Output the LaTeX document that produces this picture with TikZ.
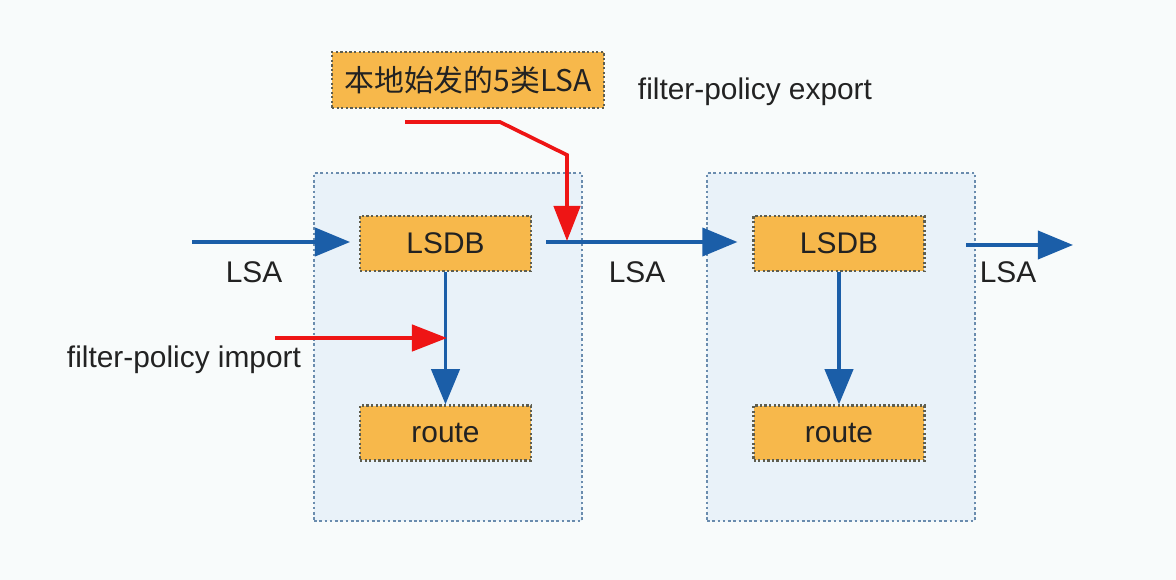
\documentclass[tikz,border=0pt]{standalone}
\usepackage{fontspec}
\setmainfont{Liberation Sans}
\newfontfamily\cjkfont{Noto Sans CJK SC}
\usetikzlibrary{arrows.meta}
\usepackage{xcolor}

\definecolor{lsblue}{HTML}{1B5EA8}
\definecolor{lsred}{HTML}{EE1515}
\definecolor{boxorange}{HTML}{F7B84B}
\definecolor{areafill}{HTML}{E9F2F9}
\definecolor{areaedge}{HTML}{6A8CAE}
\definecolor{boxedge}{HTML}{5E5E50}
\definecolor{pagebg}{HTML}{F8FBFB}
\definecolor{txt}{HTML}{222222}

\tikzset{
  areabox/.style={draw=areaedge, fill=areafill, line width=1.5pt,
    dash pattern=on 1.5pt off 1.5pt, minimum width=5.36cm, minimum height=6.96cm, inner sep=0pt},
  dbbox/.style={draw=boxedge, fill=boxorange, line width=1.3pt,
    dash pattern=on 1.3pt off 1.3pt, minimum width=3.42cm, minimum height=1.1cm, inner sep=0pt, text=txt},
  bluearrow/.style={draw=lsblue, line width=2.1pt, -{Triangle[length=20pt,width=16pt]}},
  redarrow/.style={draw=lsred, line width=2.1pt, -{Triangle[length=20pt,width=15pt]}},
  lbl/.style={text=txt, inner sep=0pt}
}

\begin{document}
\begin{tikzpicture}[x=0.02cm, y=-0.02cm, font=\fontsize{17}{20}\selectfont]
    \fill[pagebg] (0,0) rectangle (1176,580);
    \useasboundingbox (0,0) rectangle (1176,580);

    % routers
    \node[areabox] (area1) at (448,347) {};
    \node[areabox] (area2) at (841,347) {};

    \node[dbbox] (db1) at (445.5,243.5) {LSDB};
    \node[dbbox] (route1) at (445.5,433) {route};
    \node[dbbox] (db2) at (839,243.5) {LSDB};
    \node[dbbox] (route2) at (839,433) {route};

    \node[dbbox, minimum width=5.44cm, minimum height=1.12cm, font=\cjkfont\fontsize{17}{20}\selectfont] (origin) at (468,80) {本地始发的5类LSA};

    % labels
    \node[lbl] (lsain) at (254,272) {LSA};
    \node[lbl] (lsamid) at (637,272) {LSA};
    \node[lbl] (lsaout) at (1008,272) {LSA};
    \node[lbl] (export) at (755,92) {filter-policy export};
    \node[lbl] (import) at (184,360) {filter-policy import};

    % blue LSA flow
    \coordinate (in) at (192,242);
    \coordinate (out) at (1073,245);
    \draw[bluearrow, shorten >=5pt] (in) -- (db1.west |- in);
    \draw[bluearrow, shorten <=8pt, shorten >=8.5pt] (db1.east |- in) -- (db2.west |- in);
    \draw[bluearrow, shorten <=23pt] (db2.east |- out) -- (out);
    \draw[bluearrow] (db1.south) -- (route1.north);
    \draw[bluearrow] (db2.south) -- (route2.north);

    % red filters
    \coordinate (impstart) at (275,338);
    \coordinate (imphit) at (447,338);
    \draw[redarrow] (impstart) -- (imphit);

    \coordinate (expstart) at (405,122);
    \coordinate (expbend) at (500,122);
    \coordinate (expdown) at (567,155);
    \coordinate (exphit) at (567,241);
    \draw[redarrow] (expstart) -- (expbend) -- (expdown) -- (exphit);
\end{tikzpicture}
\end{document}
